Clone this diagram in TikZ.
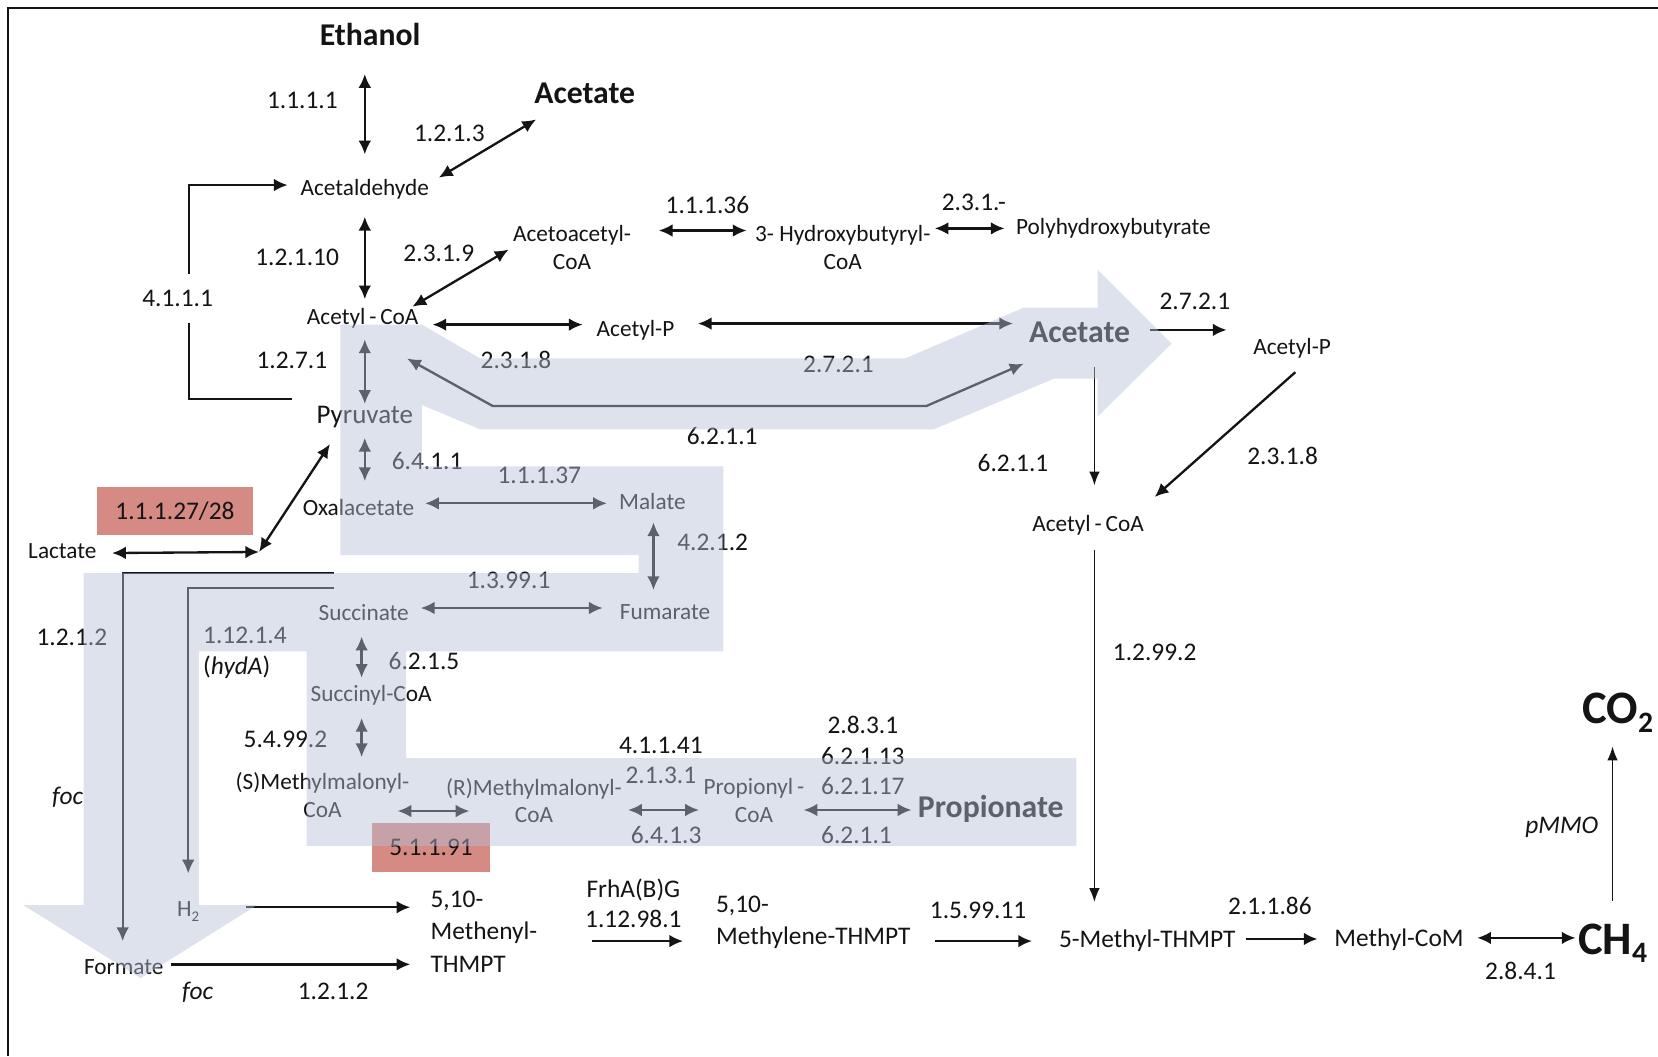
\documentclass[tikz,border=0pt]{standalone}
\usepackage{fontspec}
\setmainfont{Carlito}
\usepackage{tikz}
\usetikzlibrary{arrows.meta}
\definecolor{band}{RGB}{182,191,213}
\definecolor{ecred}{RGB}{213,138,132}
\definecolor{ink}{RGB}{20,20,20}

\begin{document}
\begin{tikzpicture}[x=1pt,y=-1pt,
  every node/.style={inner sep=1pt,text=ink},
  cpd/.style={font=\fontsize{22}{26}\selectfont},
  cpdl/.style={font=\fontsize{24}{30.5}\selectfont},
  ec/.style={font=\fontsize{24}{29}\selectfont},
  prod/.style={font=\bfseries\fontsize{30}{34}\selectfont},
  gas/.style={font=\bfseries\fontsize{44}{44}\selectfont},
  redbox/.style={fill=ecred,inner sep=0pt},
  rx/.style={draw=ink,line width=2.2pt,{Latex[length=13pt,width=12pt]}-{Latex[length=13pt,width=12pt]}},
  fw/.style={draw=ink,line width=2.2pt,-{Latex[length=13pt,width=12pt]}},
  fwthin/.style={draw=ink,line width=1.4pt,-{Latex[length=13pt,width=10pt]}},
  ]
\useasboundingbox (0,0) rectangle (1568,999);
\fill[white] (0,0) rectangle (1568,999);
\draw[ink,line width=2.5pt] (1568,7.5) -- (7.5,7.5) -- (7.5,999);

\node[prod] (etoh) at (350,33) {Ethanol};
\node[prod] (ac1) at (553,88) {Acetate};
\node[cpd] (ald) at (345,179) {Acetaldehyde};
\node[cpd,align=center] (acacoa) at (541,234) {Acetoacetyl-\\CoA};
\node[cpd,align=center] (hbcoa) at (797,234) {3- Hydroxybutyryl-\\CoA};
\node[cpd] (phb) at (1053,216) {Polyhydroxybutyrate};
\node[cpd] (accoa) at (343,301) {Acetyl\,-\,CoA};
\node[cpd] (acp) at (601,312) {Acetyl-P};
\node[prod] (ac2) at (1021,314) {Acetate};
\node[cpd] (acp2) at (1222,329) {Acetyl-P};
\node[font=\fontsize{25.5}{28}\selectfont] (pyr) at (345,394) {Pyruvate};
\node[cpd] (oaa) at (339,480) {Oxalacetate};
\node[cpd] (mal) at (617,474) {Malate};
\node[cpd] (lac) at (59,521) {Lactate};
\node[cpd] (accoa2) at (1029,497) {Acetyl\,-\,CoA};
\node[cpd] (succ) at (344,579) {Succinate};
\node[cpd] (fum) at (629,579) {Fumarate};
\node[cpd] (succoa) at (351,658) {Succinyl-CoA};
\node[cpd,align=center] (smm) at (305,752) {(S)Methylmalonyl-\\CoA};
\node[cpd,align=center] (rmm) at (505,757) {(R)Methylmalonyl-\\CoA};
\node[cpd,align=center] (propcoa) at (713,757) {Propionyl\,-\\CoA};
\node[prod] (prop) at (937,765) {Propionate};
\node[gas] (co2) at (1530,674) {CO\raisebox{-8pt}{\fontsize{28}{28}\selectfont 2}};
\node[gas] (ch4) at (1525,892) {CH\raisebox{-8pt}{\fontsize{28}{28}\selectfont 4}};
\node[cpd] (h2) at (178,862) {H\raisebox{-4pt}{\fontsize{14}{14}\selectfont 2}};
\node[cpd] (formate) at (117,915) {Formate};
\node[cpdl,align=left,anchor=west] (mthf) at (406,881) {5,10-\\Methenyl-\\THMPT};
\node[cpdl,align=left,anchor=west] (mlthf) at (676,872.5) {5,10-\\Methylene-THMPT};
\node[cpdl] (mthmpt) at (1085,890) {5-Methyl-THMPT};
\node[cpdl] (mcom) at (1323,889) {Methyl-CoM};

\node[redbox,minimum width=148pt,minimum height=45pt] (b1127) at (165.5,483.5) {};
\node[redbox,minimum width=111.5pt,minimum height=46pt] (b51191) at (407.7,801.5) {};

\node[ec] (l1111) at (286,95) {1.1.1.1};
\node[ec] (l1213) at (425,126) {1.2.1.3};
\node[ec] (l12110) at (281,243) {1.2.1.10};
\node[ec] (l2319) at (415,240) {2.3.1.9};
\node[ec] (l11136) at (669,194) {1.1.1.36};
\node[ec] (l231x) at (921,191) {2.3.1.-};
\node[ec] (l4111) at (168,282) {4.1.1.1};
\node[ec] (l1271) at (276,341) {1.2.7.1};
\node[ec] (l2318) at (488,340) {2.3.1.8};
\node[ec] (l2721) at (793,345) {2.7.2.1};
\node[ec] (l2721b) at (1130,285) {2.7.2.1};
\node[ec] (l6211) at (683,412) {6.2.1.1};
\node[ec] (l6411) at (404,436) {6.4.1.1};
\node[ec] (l6211b) at (958,438) {6.2.1.1};
\node[ec] (l2318b) at (1213,431) {2.3.1.8};
\node[ec] (l11137) at (510,450) {1.1.1.37};
\node[ec] (l11127) at (b1127) {1.1.1.27/28};
\node[ec] (l4212) at (674,513) {4.2.1.2};
\node[ec] (l13991) at (481,549) {1.3.99.1};
\node[ec] (l1212) at (68,603) {1.2.1.2};
\node[ec,align=left,anchor=west] (l11214) at (191,617.5) {1.12.1.4\\(\textit{hydA})};
\node[ec] (l6215) at (401,625) {6.2.1.5};
\node[ec] (l12992) at (1092,617) {1.2.99.2};
\node[ec] (l54992) at (270,699) {5.4.99.2};
\node[ec,align=center] (l41141) at (625,719) {4.1.1.41\\2.1.3.1};
\node[ec,align=center] (l2831) at (816,714.5) {2.8.3.1\\6.2.1.13\\6.2.1.17};
\node[ec] (foc1) at (64,754) {\textit{foc}};
\node[ec] (l6413) at (630,790) {6.4.1.3};
\node[ec] (l6211c) at (810,790) {6.2.1.1};
\node[ec] (pmmo) at (1477,782) {\textit{pMMO}};
\node[ec] (l51191) at (b51191) {5.1.1.91};
\node[ec,align=center,font=\fontsize{24}{28}\selectfont] (frh) at (599,854) {FrhA(B)G\\1.12.98.1};
\node[ec] (l159911) at (925,861) {1.5.99.11};
\node[ec] (l21186) at (1201,857) {2.1.1.86};
\node[ec] (l2841) at (1438,918) {2.8.4.1};
\node[ec] (foc2) at (187,938) {\textit{foc}};
\node[ec] (l1212b) at (315,938) {1.2.1.2};

\coordinate (lacj) at (245,522);
\coordinate (fj) at (316,542);
\coordinate (hj) at (316,556);

\draw[rx] ([shift={(-5,37)}]etoh.center) -- ([shift={(0,-33)}]ald.center);
\draw[rx] ([shift={(70,-11)}]ald.center) -- ([shift={(-46,25)}]ac1.center);
\draw[ink,line width=2pt] ([shift={(-69,-17)}]pyr.center) -| ([shift={(11,23)}]l4111.center);
\draw[fw,line width=2pt] ([shift={(11,-23)}]l4111.center) |- ([shift={(-73,-4)}]ald.center);
\draw[rx] ([shift={(0,26)}]ald.center) -- ([shift={(2,-18)}]accoa.center);
\draw[rx] ([shift={(47,-11)}]accoa.center) -- ([shift={(-60,2)}]acacoa.center);
\draw[rx] ([shift={(82,-16)}]acacoa.center) -- ([shift={(-91,-16)}]hbcoa.center);
\draw[rx] ([shift={(87,-18)}]hbcoa.center) -- ([shift={(-103,0)}]phb.center);
\draw[rx] ([shift={(66,6)}]accoa.center) -- ([shift={(-50,-5)}]acp.center);
\draw[rx] ([shift={(59,-6)}]acp.center) -- ([shift={(-63,-8)}]ac2.center);
\draw[rx] ([shift={(2,20)}]accoa.center) -- ([shift={(0,-12)}]pyr.center);
\draw[rx] ([shift={(42,38)}]accoa.center) -- ++(81,45) -- ++(410,0) -- ([shift={(-53,30)}]ac2.center);
\draw[fw] ([shift={(67,-2)}]ac2.center) -- ([shift={(-62,-17)}]acp2.center);
\draw[fwthin] ([shift={(14,33)}]ac2.center) -- ([shift={(6,-38)}]accoa2.center);
\draw[fw] ([shift={(3,23)}]acp2.center) -- ([shift={(63,-27)}]accoa2.center);
\draw[rx] ([shift={(0,20)}]pyr.center) -- ([shift={(6,-25)}]oaa.center);
\draw[rx] ([shift={(47,2)}]lac.center) -- (lacj);
\draw[rx] (lacj) -- ([shift={(-33,26)}]pyr.center);
\draw[rx] ([shift={(63,-4)}]oaa.center) -- ([shift={(-43,2)}]mal.center);
\draw[rx] ([shift={(1,20)}]mal.center) -- ([shift={(-11,-21)}]fum.center);
\draw[rx] ([shift={(54,-4)}]succ.center) -- ([shift={(-59,-4)}]fum.center);
\draw[rx] ([shift={(-2,23)}]succ.center) -- ([shift={(-9,-17)}]succoa.center);
\draw[rx] ([shift={(-9,21)}]succoa.center) -- ([shift={(37,-36)}]smm.center);
\draw[rx] ([shift={(71,15)}]smm.center) -- ([shift={(-61,10)}]rmm.center);
\draw[rx] ([shift={(89,9)}]rmm.center) -- ([shift={(-52,9)}]propcoa.center);
\draw[rx] ([shift={(47,9)}]propcoa.center) -- ([shift={(-75,1)}]prop.center);
\draw[fw,line width=2pt] (fj) -| ([shift={(-1,-25)}]formate.center);
\draw[fw,line width=2pt] (hj) -| ([shift={(0,-36)}]h2.center);
\draw[fw] ([shift={(55,-4)}]h2.center) -- ([shift={(-18,-23)}]mthf.west);
\draw[fw] ([shift={(45,-3)}]formate.center) -- ([shift={(-18,31)}]mthf.west);
\draw[fw] ([shift={(154,9)}]mthf.west) -- ([shift={(-30,17.5)}]mlthf.west);
\draw[fw] ([shift={(208,17.5)}]mlthf.west) -- ([shift={(-109,0)}]mthmpt.center);
\draw[fwthin] ([shift={(6,23)}]accoa2.center) -- ([shift={(-50,-37)}]mthmpt.center);
\draw[fw] ([shift={(93,-2)}]mthmpt.center) -- ([shift={(-77,-1)}]mcom.center);
\draw[rx] ([shift={(74,-2)}]mcom.center) -- ([shift={(-35,-5)}]ch4.center);
\draw[fwthin] ([shift={(0,-40)}]ch4.center) -- ([shift={(-5,32)}]co2.center);

\fill[band,fill opacity=0.45] (322,307) -- (399,307) -- (454,339) -- (856,339)
  -- (968,291) -- (1038,291) -- (1038,255) -- (1108,325) -- (1038,394)
  -- (1038,358) -- (997,358) -- (883,406) -- (454,406) -- (399,383)
  -- (399,441) -- (684,441) -- (684,616) -- (384,616) -- (384,717)
  -- (1018,717) -- (1018,800) -- (290,800) -- (290,616) -- (188,616)
  -- (188,856) -- (243,856) -- (133,925) -- (22,856) -- (79,856)
  -- (79,542) -- (604,542) -- (604,525) -- (322,525) -- cycle;
\end{tikzpicture}
\end{document}
